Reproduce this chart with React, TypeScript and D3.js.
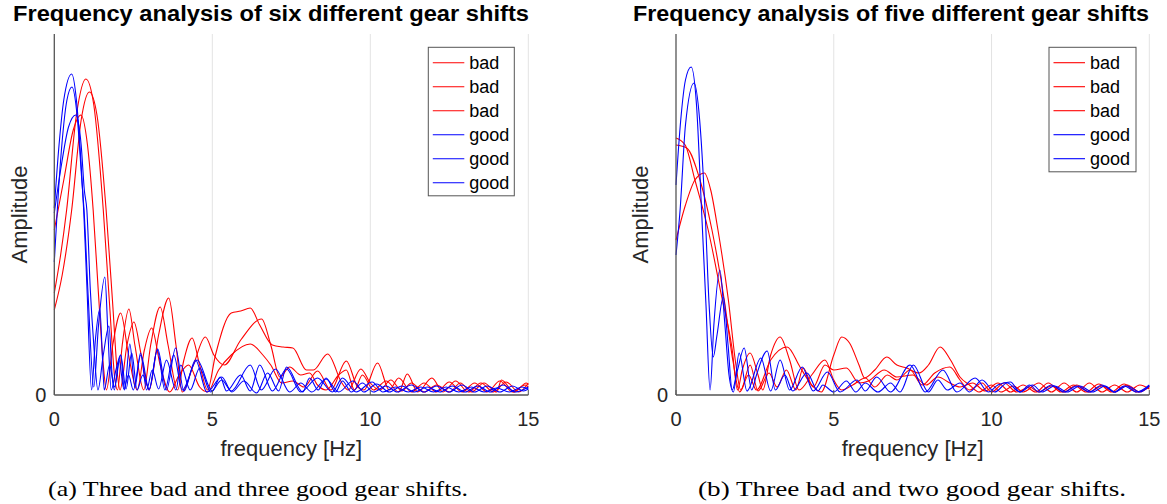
import React from "react";
import * as d3 from "d3";

// ---------- DATA ----------
// amplitude in arbitrary units (axis shows only 0); frequency in Hz
const xTicks = [0, 5, 10, 15];
const yTicks = [0];
const yMax = 361;

const leftBad1: [number, number][] = [[0,102],[0.2,140],[0.39,185],[0.7,280],[1.0,316],[1.25,290],[1.55,185],[1.75,90],[1.92,15],[2.0,5],[2.15,50],[2.36,86],[2.55,50],[2.83,5],[3.05,50],[3.35,88],[3.6,50],[3.9,5],[4.1,35],[4.36,57],[4.6,30],[4.85,5],[5.1,40],[5.6,82],[5.9,84],[6.2,87],[6.5,70],[6.9,50],[7.24,48],[7.55,47],[7.98,25],[8.2,25],[8.65,41],[9.1,12],[9.3,5],[9.7,26],[10.0,12],[10.3,5],[10.65,15],[11.0,4],[11.3,12],[11.7,3],[12.1,10],[12.5,3],[12.85,12],[13.2,3],[13.6,12],[14.0,3],[14.15,15],[14.55,3],[14.94,12],[15,10]];
const leftBad2: [number, number][] = [[0,85],[0.25,120],[0.55,185],[0.85,275],[1.11,303],[1.35,280],[1.64,185],[1.85,90],[2.0,20],[2.08,5],[2.3,50],[2.52,73],[2.75,40],[3.0,5],[3.3,60],[3.62,97],[3.85,50],[4.05,3],[4.4,30],[4.78,58],[5.05,40],[5.38,30],[5.9,55],[6.56,76],[6.85,50],[7.14,18],[7.45,28],[7.8,20],[8.08,22],[8.33,10],[8.6,5],[9.0,20],[9.24,25],[9.5,5],[9.75,20],[10.1,5],[10.5,14],[10.9,3],[11.17,21],[11.5,3],[11.95,17],[12.3,3],[12.7,14],[13.1,3],[13.5,12],[13.9,3],[14.3,13],[14.7,3],[15,12]];
const leftBad3: [number, number][] = [[0,165],[0.3,215],[0.6,265],[0.84,280],[1.05,250],[1.23,185],[1.4,100],[1.55,30],[1.65,5],[1.85,50],[2.1,82],[2.35,40],[2.62,5],[2.85,45],[3.08,67],[3.35,30],[3.65,3],[3.95,20],[4.25,30],[4.6,8],[4.85,3],[5.2,25],[5.6,40],[6.2,51],[6.6,40],[6.85,30],[7.2,12],[7.55,14],[7.9,8],[8.33,24],[8.75,5],[9.24,34],[9.6,8],[9.8,5],[10.23,32],[10.6,5],[10.9,17],[11.3,3],[11.7,12],[12.1,3],[12.5,13],[12.9,3],[13.3,12],[13.7,3],[14.1,14],[14.5,3],[14.9,10],[15,8]];
const leftGood1: [number, number][] = [[0,187],[0.15,250],[0.3,295],[0.55,321],[0.7,295],[0.85,230],[0.93,185],[1.03,110],[1.18,5],[1.3,55],[1.44,86],[1.52,40],[1.58,5],[1.75,30],[1.9,8],[2.1,40],[2.27,6],[2.45,42],[2.62,5],[2.8,20],[3.0,6],[3.27,46],[3.55,5],[3.84,47],[4.1,4],[4.47,35],[4.83,3],[5.3,18],[5.62,3],[6.0,14],[6.4,2],[6.75,22],[7.1,4],[7.35,28],[7.86,3],[8.08,17],[8.35,5],[8.6,17],[8.9,3],[9.12,14],[9.4,3],[9.75,12],[10.1,3],[10.5,9],[10.85,3],[11.3,10],[11.7,3],[12.1,9],[12.5,3],[12.9,10],[13.3,3],[13.7,9],[14.1,3],[14.5,9],[14.85,4],[15,6]];
const leftGood2: [number, number][] = [[0,133],[0.2,235],[0.4,295],[0.56,308],[0.72,280],[0.87,215],[0.95,180],[1.07,100],[1.25,8],[1.4,70],[1.6,118],[1.7,60],[1.8,5],[1.95,25],[2.1,40],[2.22,5],[2.39,51],[2.55,8],[2.73,42],[2.92,5],[3.1,25],[3.3,6],[3.55,35],[3.85,5],[4.0,30],[4.3,5],[4.6,27],[4.95,3],[5.3,15],[5.6,4],[6.2,30],[6.55,5],[7.0,26],[7.45,3],[7.8,12],[8.15,3],[8.6,16],[9.0,3],[9.45,14],[9.8,3],[10.2,11],[10.6,3],[11.0,9],[11.4,3],[11.8,8],[12.2,3],[12.6,9],[13.0,3],[13.4,9],[13.8,3],[14.2,10],[14.6,3],[15,8]];
const leftGood3: [number, number][] = [[0,182],[0.2,225],[0.45,268],[0.68,280],[0.85,250],[0.95,205],[1.03,185],[1.14,105],[1.25,50],[1.38,5],[1.55,40],[1.73,69],[1.83,20],[1.9,5],[2.05,35],[2.2,6],[2.35,20],[2.5,5],[2.74,40],[3.0,5],[3.26,45],[3.5,5],[3.78,40],[4.05,5],[4.52,35],[5.0,4],[5.25,18],[5.45,4],[5.9,20],[6.2,4],[6.5,30],[6.9,4],[7.35,26],[7.8,3],[8.33,17],[8.8,3],[9.12,17],[9.55,3],[10.06,13],[10.4,3],[10.8,8],[11.2,3],[11.6,8],[12.0,3],[12.4,8],[12.8,3],[13.2,8],[13.6,3],[14.0,7],[14.4,3],[14.8,8],[15,6]];

const rightBad1: [number, number][] = [[0,257],[0.29,250],[0.6,215],[1.02,165],[1.45,98],[1.77,48],[1.95,5],[2.1,25],[2.35,42],[2.6,20],[2.75,5],[3.0,40],[3.3,58],[3.6,35],[3.9,5],[4.3,20],[4.72,35],[5.0,15],[5.25,5],[5.6,10],[6.0,17],[6.3,8],[6.7,20],[7.0,15],[7.42,25],[7.8,10],[8.2,22],[8.68,28],[9.0,15],[9.3,5],[9.7,12],[10.0,3],[10.4,12],[10.8,3],[11.2,8],[11.5,3],[11.9,9],[12.3,3],[12.7,10],[13.1,3],[13.5,9],[13.9,3],[14.3,10],[14.7,3],[15,9]];
const rightBad2: [number, number][] = [[0,250],[0.34,247],[0.76,215],[1.14,165],[1.53,95],[1.8,35],[2.02,3],[2.3,20],[2.55,5],[3.0,35],[3.52,48],[3.93,28],[4.3,10],[4.6,3],[5.0,40],[5.25,58],[5.5,52],[5.8,30],[5.98,17],[6.3,25],[6.68,38],[7.0,30],[7.31,27],[7.7,22],[8.0,30],[8.37,48],[8.7,35],[9.0,18],[9.3,10],[9.6,3],[10.0,10],[10.3,3],[10.7,9],[11.0,3],[11.5,12],[11.9,3],[12.3,12],[12.7,3],[13.1,12],[13.5,3],[13.9,10],[14.3,3],[14.7,10],[15,6]];
const rightBad3: [number, number][] = [[0,155],[0.3,190],[0.6,215],[0.9,222],[1.1,205],[1.33,165],[1.66,95],[1.9,30],[2.05,5],[2.35,30],[2.6,4],[2.95,22],[3.2,8],[3.5,25],[3.8,5],[4.03,27],[4.35,8],[4.72,30],[5.0,25],[5.4,27],[5.8,12],[6.1,14],[6.6,25],[7.0,18],[7.5,20],[7.93,10],[8.3,18],[8.68,12],[9.0,8],[9.4,12],[9.8,4],[10.2,12],[10.6,3],[11.0,10],[11.4,3],[11.8,12],[12.2,3],[12.6,10],[13.0,3],[13.4,11],[13.8,3],[14.2,11],[14.6,3],[15,8]];
const rightGood1: [number, number][] = [[0,210],[0.15,275],[0.3,315],[0.48,328],[0.65,290],[0.81,185],[0.95,90],[1.08,5],[1.2,70],[1.39,125],[1.55,70],[1.68,20],[1.82,3],[2.0,42],[2.25,4],[2.69,37],[3.0,4],[3.3,35],[3.6,5],[4.0,28],[4.35,4],[4.8,23],[5.2,3],[5.73,15],[6.0,4],[6.36,18],[6.8,3],[7.42,30],[7.9,3],[8.46,25],[8.9,3],[9.48,17],[9.9,3],[10.2,10],[10.6,13],[10.9,3],[11.3,10],[11.6,3],[12.0,9],[12.4,3],[12.8,9],[13.2,3],[13.6,9],[13.9,3],[14.3,9],[14.7,3],[15,9]];
const rightGood2: [number, number][] = [[0,140],[0.13,185],[0.3,270],[0.57,312],[0.75,275],[0.92,185],[1.05,90],[1.18,38],[1.3,60],[1.5,98],[1.65,50],[1.78,5],[1.95,25],[2.16,47],[2.4,5],[2.55,20],[2.89,44],[3.15,5],[3.45,20],[3.7,4],[4.15,22],[4.5,4],[4.65,10],[5.0,3],[5.4,14],[5.7,3],[6.0,12],[6.4,3],[6.8,12],[7.1,3],[7.52,30],[8.0,3],[8.3,15],[8.6,5],[9.0,12],[9.3,3],[9.7,15],[10.1,3],[10.5,12],[10.9,3],[11.2,10],[11.5,3],[11.9,10],[12.3,3],[12.7,9],[13.1,3],[13.5,10],[13.9,3],[14.2,9],[14.6,3],[15,10]];

const leftLabels = ["bad", "bad", "bad", "good", "good", "good"];
const rightLabels = ["bad", "bad", "bad", "good", "good"];
const leftSeries = [leftBad1, leftBad2, leftBad3, leftGood1, leftGood2, leftGood3];
const rightSeries = [rightBad1, rightBad2, rightBad3, rightGood1, rightGood2];

const titles = ["Frequency analysis of six different gear shifts", "Frequency analysis of five different gear shifts"];
const captions = ["(a) Three bad and three good gear shifts.", "(b) Three bad and two good gear shifts."];

// ---------- STYLE ----------
const RED = "#ff0000";
const BLUE = "#0000ff";
const SANS = "'Liberation Sans', Arial, Helvetica, sans-serif";
const SERIF = "'Liberation Serif', 'Times New Roman', serif";

type PanelProps = {
  x0: number; x1: number; series: [number, number][][]; labels: string[];
  title: string; titleX: number; titleW: number; caption: string; captionX: number; captionW: number;
  legendX: number; legendW: number; ylabelX: number;
};

const TOP = 34;
const BOTTOM = 395;

function Panel(p: PanelProps) {
  const x = d3.scaleLinear().domain([0, 15]).range([p.x0, p.x1]);
  const y = d3.scaleLinear().domain([0, yMax]).range([BOTTOM, TOP]);
  const line = d3.line<[number, number]>().x(d => x(d[0])).y(d => y(d[1])).curve(d3.curveMonotoneX);
  const colorOf = (l: string) => (l === "bad" ? RED : BLUE);
  const cx = (p.x0 + p.x1) / 2;
  const rowH = 24;
  const legTop = 47.3;
  const legH = p.labels.length * rowH + 4.5;
  return (
    <g>
      {xTicks.filter(t => t > 0).map(t => (
        <line key={"g" + t} x1={x(t)} x2={x(t)} y1={TOP} y2={BOTTOM} stroke="#e3e3e3" strokeWidth={1} />
      ))}
      {p.series.map((s, i) => (
        <path key={"s" + i} d={line(s) || ""} fill="none" stroke={colorOf(p.labels[i])} strokeWidth={1.1} />
      ))}
      <line x1={p.x0} x2={p.x0} y1={TOP} y2={BOTTOM} stroke="#555" strokeWidth={1.3} />
      <line x1={p.x0} x2={p.x1} y1={BOTTOM} y2={BOTTOM} stroke="#555" strokeWidth={1.3} />
      {xTicks.map(t => (
        <g key={"t" + t}>
          <line x1={x(t)} x2={x(t)} y1={BOTTOM} y2={BOTTOM - 5} stroke="#555" strokeWidth={1} />
          <text x={x(t)} y={426} textAnchor="middle" fontFamily={SANS} fontSize={20} fill="#262626">{t}</text>
        </g>
      ))}
      {yTicks.map(t => (
        <text key={"y" + t} x={p.x0 - 8} y={y(t) + 7} textAnchor="end" fontFamily={SANS} fontSize={20} fill="#262626">{t}</text>
      ))}
      <text x={cx} y={456} textAnchor="middle" fontFamily={SANS} fontSize={22} fill="#262626">frequency [Hz]</text>
      <text transform={`translate(${p.ylabelX},${(TOP + BOTTOM) / 2}) rotate(-90)`} textAnchor="middle" fontFamily={SANS} fontSize={22} fill="#262626">Amplitude</text>
      <text x={p.titleX} y={21} textAnchor="middle" fontFamily={SANS} fontWeight="bold" fontSize={22}
        textLength={p.titleW} lengthAdjust="spacingAndGlyphs" fill="#000">{p.title}</text>
      <text x={p.captionX} y={496} textAnchor="middle" fontFamily={SERIF} fontSize={22}
        textLength={p.captionW} lengthAdjust="spacingAndGlyphs" fill="#000">{p.caption}</text>
      <rect x={p.legendX} y={legTop} width={p.legendW} height={legH} fill="#fff" stroke="#555" strokeWidth={1} />
      {p.labels.map((l, i) => {
        const ry = legTop + 15.4 + i * rowH;
        return (
          <g key={"l" + i}>
            <line x1={p.legendX + 4.5} x2={p.legendX + 36} y1={ry} y2={ry} stroke={colorOf(l)} strokeWidth={1.1} />
            <text x={p.legendX + 41} y={ry + 6} fontFamily={SANS} fontSize={18} fill="#000">{l}</text>
          </g>
        );
      })}
    </g>
  );
}

export default function App() {
  return (
    <svg width={1167} height={504} style={{ position: "absolute", left: 0, top: 0, background: "#fff" }}>
      <rect x={0} y={0} width={1167} height={504} fill="#fff" />
      <Panel x0={54.3} x1={528.3} series={leftSeries} labels={leftLabels} title={titles[0]} titleX={271} titleW={516}
        caption={captions[0]} captionX={258} captionW={420} legendX={428.3} legendW={86} ylabelX={27} />
      <Panel x0={676} x1={1149.3} series={rightSeries} labels={rightLabels} title={titles[1]} titleX={891} titleW={516}
        caption={captions[1]} captionX={912} captionW={428} legendX={1049} legendW={87} ylabelX={648} />
    </svg>
  );
}
